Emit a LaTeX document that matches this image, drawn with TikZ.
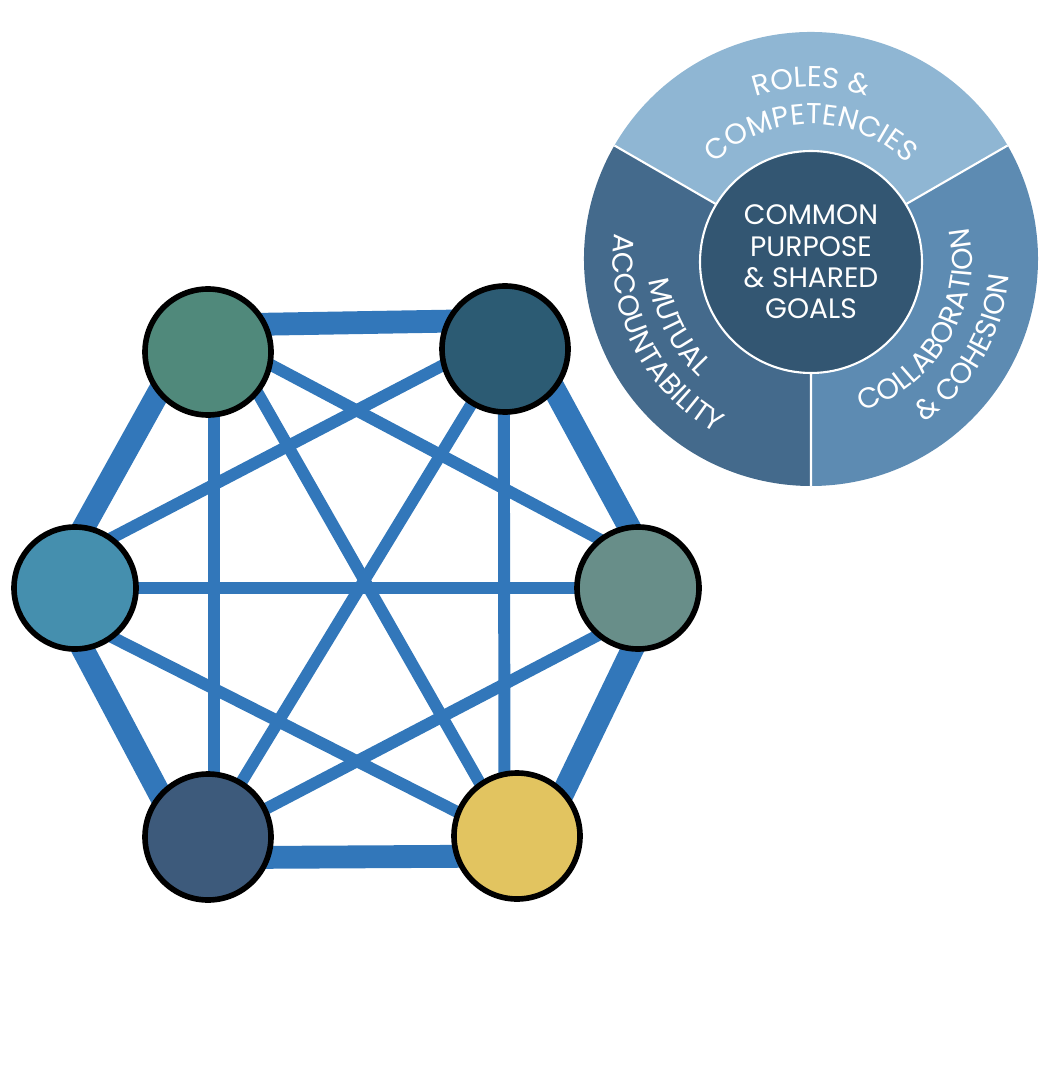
\documentclass[tikz,border=0pt]{standalone}
\usepackage{fontspec}
\newfontfamily\poppins{Poppins}
\usetikzlibrary{backgrounds,decorations.text}
\definecolor{linkblue}{RGB}{50,119,186}
\definecolor{sage}{RGB}{80,137,123}
\definecolor{deepteal}{RGB}{44,91,115}
\definecolor{lagoon}{RGB}{69,143,174}
\definecolor{greyteal}{RGB}{104,142,137}
\definecolor{slate}{RGB}{61,90,123}
\definecolor{mustard}{RGB}{226,196,96}
\definecolor{ringtop}{RGB}{143,182,211}
\definecolor{ringleft}{RGB}{68,106,140}
\definecolor{ringright}{RGB}{93,139,178}
\definecolor{hubblue}{RGB}{51,86,114}
\newcommand{\wheelfont}{\poppins\fontsize{8}{8.9}\selectfont}
\newcommand{\arcfont}{\poppins\fontsize{8.2}{9}\selectfont}
\tikzset{
  member/.style={circle, draw=black, line width=1.6pt, inner sep=0pt, minimum size=1.26cm},
  strong/.style={linkblue, line width=6.5pt, shorten <=-5pt, shorten >=-5pt},
  weak/.style={linkblue, line width=3.4pt, shorten <=-5pt, shorten >=-5pt},
  ringtext/.style={decorate, decoration={text along path, text align=center,
      text={|\arcfont\color{white}|#1}}}
}

\begin{document}
\begin{tikzpicture}
\useasboundingbox (0,0) rectangle (10.44,-10.80);
% team members
\node[member, fill=sage] (tl) at (2.08,-3.52) {};
\node[member, fill=deepteal] (tr) at (5.05,-3.49) {};
\node[member, fill=lagoon, minimum size=1.22cm] (ml) at (0.75,-5.88) {};
\node[member, fill=greyteal, minimum size=1.22cm] (mr) at (6.38,-5.88) {};
\node[member, fill=slate] (bl) at (2.08,-8.37) {};
\node[member, fill=mustard] (br) at (5.17,-8.36) {};
\begin{pgfonlayer}{background}
% outer ring
\draw[strong] (tl.25) -- (tr.155);
\draw[strong] (tr.320) -- (mr.99);
\draw[strong] (mr.264) -- (br.44);
\draw[strong] (bl.-18) -- (br.198);
\draw[strong] (ml.278) -- (bl.138);
\draw[strong] (tl.220) -- (ml.81);
% inner links
\draw[weak] (tl.275) -- (bl.85);
\draw[weak] (tr.269) -- (br.101);
\draw[weak] (ml) -- (mr);
\draw[weak] (tl.320) -- (br.125);
\draw[weak] (tr) -- (bl);
\draw[weak] (tl.-12) -- (mr.129);
\draw[weak] (tr.195) -- (ml.53);
\draw[weak] (ml.-52) -- (br.158);
\draw[weak] (mr.229) -- (bl.26);
\end{pgfonlayer}
% wheel
\begin{scope}[shift={(8.11,-2.59)}]
\fill[ringtop] (0,0) -- (30:2.27) arc[start angle=30, end angle=150, radius=2.27] -- cycle;
\fill[ringleft] (0,0) -- (150:2.27) arc[start angle=150, end angle=270, radius=2.27] -- cycle;
\fill[ringright] (0,0) -- (270:2.27) arc[start angle=270, end angle=390, radius=2.27] -- cycle;
\draw[white, line width=0.6pt] (0,0) -- (30:2.27) (0,0) -- (150:2.27) (0,0) -- (270:2.27);
\node[circle, fill=hubblue, draw=white, line width=0.6pt, minimum size=2.22cm, inner sep=0pt,
  align=center, text=white, font=\wheelfont] (goals) at (0,-0.03) {COMMON\\PURPOSE\\\& SHARED\\GOALS};
\path[ringtext={ROLES {\&}}] (150:1.72) arc[start angle=150, end angle=30, radius=1.72];
\path[ringtext={COMPETENCIES}] (150:1.35) arc[start angle=150, end angle=30, radius=1.35];
\path[ringtext={MUTUAL}] (157:1.63) arc[start angle=157, end angle=257, radius=1.63];
\path[ringtext={ACCOUNTABILITY}] (157:1.98) arc[start angle=157, end angle=257, radius=1.98];
\path[ringtext={COLLABORATION}] (280:1.61) arc[start angle=280, end angle=380, radius=1.61];
\path[ringtext={{\&} COHESION}] (280:1.99) arc[start angle=280, end angle=380, radius=1.99];
\end{scope}
\end{tikzpicture}
\end{document}
